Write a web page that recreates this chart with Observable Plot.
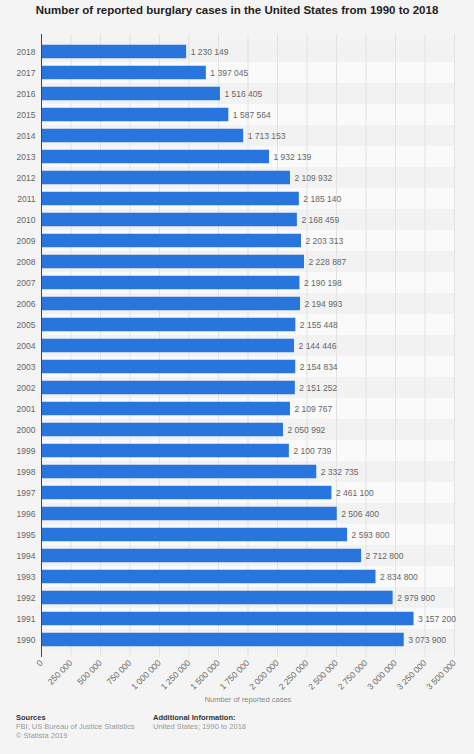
<!DOCTYPE html>
<html>
<head>
<meta charset="utf-8">
<script src="https://cdn.jsdelivr.net/npm/d3@7"></script>
<script src="https://cdn.jsdelivr.net/npm/@observablehq/plot@0.6"></script>
<style>
  html, body { margin: 0; padding: 0; background: #f4f4f4; }
  body { width: 474px; height: 754px; font-family: "Liberation Sans", Arial, sans-serif; position: relative; overflow: hidden; }
  #title { position: absolute; top: 4px; left: 0; width: 474px; text-align: center; font-weight: bold; font-size: 11.5px; color: #222; }
  #chart { position: absolute; top: 28px; left: 0; }
  .foot { position: absolute; font-size: 7.5px; line-height: 9px; color: #999; }
  .foot b { color: #333; font-weight: bold; }
</style>
</head>
<body>
<div id="title">Number of reported burglary cases in the United States from 1990 to 2018</div>
<div id="chart"></div>
<div class="foot" style="left:16px; top:713px;"><b>Sources</b><br>FBI; US Bureau of Justice Statistics<br>© Statista 2019</div>
<div class="foot" style="left:153px; top:713px;"><b>Additional Information:</b><br>United States; 1990 to 2018</div>
<script>
const years = ["2018","2017","2016","2015","2014","2013","2012","2011","2010","2009","2008","2007","2006","2005","2004","2003","2002","2001","2000","1999","1998","1997","1996","1995","1994","1993","1992","1991","1990"];
const cases = [1230149,1397045,1516405,1587564,1713153,1932139,2109932,2185140,2168459,2203313,2228887,2190198,2194993,2155448,2144446,2154834,2151252,2109767,2050992,2100739,2332735,2461100,2506400,2593800,2712800,2834800,2979900,3157200,3073900];
const xTicks = [0,250000,500000,750000,1000000,1250000,1500000,1750000,2000000,2250000,2500000,2750000,3000000,3250000,3500000];
const xLabel = "Number of reported cases";

const data = years.map((y, i) => ({year: y, value: cases[i], idx: i}));
const fmt = v => d3.format(",")(v).replace(/,/g, " ");

const chart = Plot.plot({
  width: 474,
  height: 682,
  marginTop: 6,
  marginBottom: 53,
  marginLeft: 41,
  marginRight: 20,
  style: {background: "transparent", fontFamily: "Liberation Sans, Arial, sans-serif"},
  x: {domain: [0, 3500000], ticks: xTicks, tickFormat: fmt, tickRotate: -45, label: null},
  y: {domain: years, padding: 0, label: null},
  marks: [
    Plot.barX(data, {y: "year", x1: 0, x2: 3500000, fill: d => d.idx % 2 ? "#fafafa" : "#f2f2f2"}),
    Plot.gridX(xTicks, {stroke: "#e2e2e2", strokeOpacity: 1}),
    Plot.barX(data, {y: "year", x: "value", fill: "#2876dd", insetTop: 3.75, insetBottom: 3.75}),
    Plot.text(data, {y: "year", x: "value", text: d => fmt(d.value), textAnchor: "start", dx: 4, fill: "#666", fontSize: 8.5}),
    Plot.ruleX([0], {stroke: "#444"}),
    Plot.axisY({tickSize: 0, tickPadding: 6, fontSize: 8.5, color: "#666", label: null}),
    Plot.axisX({ticks: xTicks, tickFormat: fmt, tickRotate: -45, tickSize: 0, tickPadding: 4, fontSize: 8.5, color: "#666", label: null}),
    Plot.text([xLabel], {frameAnchor: "bottom", dy: 44, text: d => d, fill: "#888", fontSize: 7.5})
  ]
});
document.getElementById("chart").appendChild(chart);
</script>
</body>
</html>
